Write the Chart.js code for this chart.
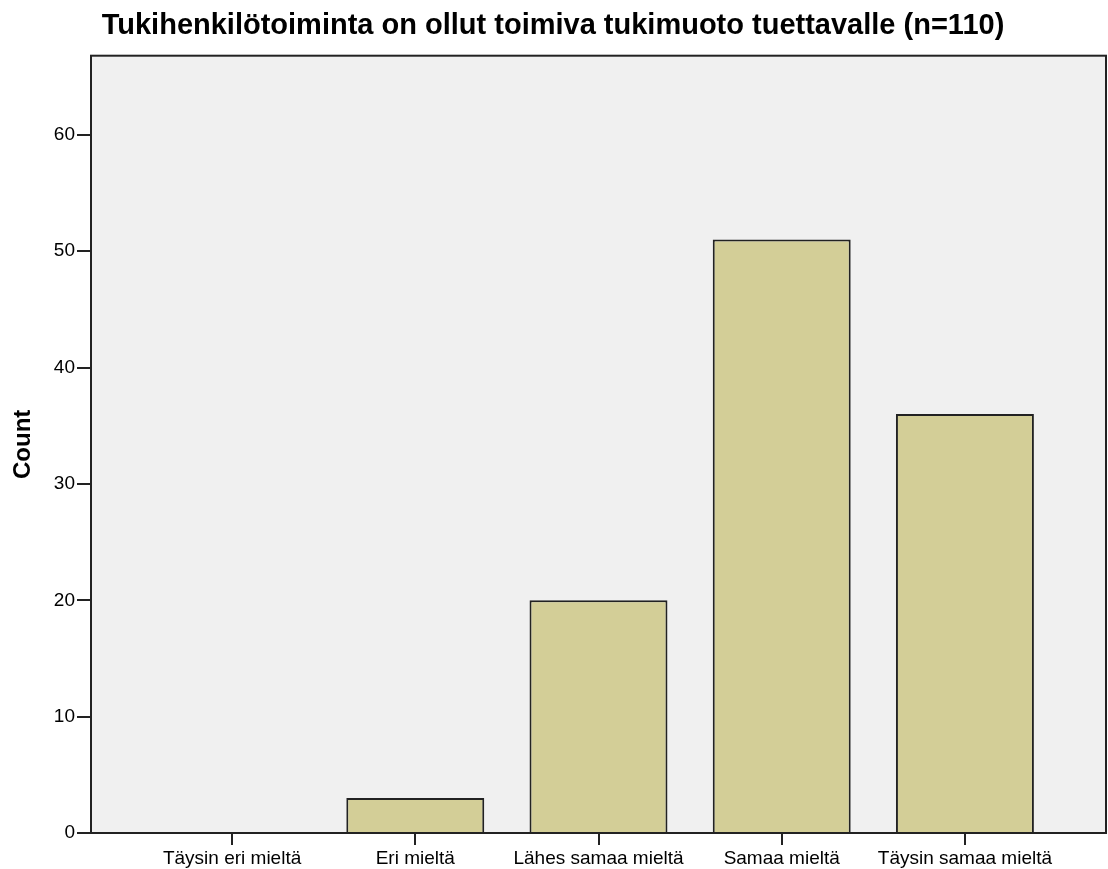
<!DOCTYPE html>
<html>
<head>
<meta charset="utf-8">
<script src="https://cdn.jsdelivr.net/npm/chart.js@4/dist/chart.umd.min.js"></script>
<style>
  body { margin: 0; background: #fff; }
  #wrap { width: 1108px; height: 869px; }
</style>
</head>
<body>
<div id="wrap"><canvas id="chart" width="1108" height="869"></canvas></div>
<script>
const categories = ['Täysin eri mieltä', 'Eri mieltä', 'Lähes samaa mieltä', 'Samaa mieltä', 'Täysin samaa mieltä'];
const counts = [0, 3, 20, 51, 36];
const yTicks = [0, 10, 20, 30, 40, 50, 60];
const yMax = 66.8;

// grey plot background and frame like SPSS
const frame = {
  id: 'frame',
  beforeDatasetsDraw(chart) {
    const { ctx, chartArea: a } = chart;
    ctx.save();
    ctx.fillStyle = '#f0f0f0';
    ctx.fillRect(a.left, a.top, a.right - a.left, a.bottom - a.top);
    ctx.restore();
  },
  afterDraw(chart) {
    const { ctx, chartArea: a } = chart;
    ctx.save();
    ctx.strokeStyle = '#222';
    ctx.lineWidth = 2;
    ctx.strokeRect(a.left, a.top, a.right - a.left, a.bottom - a.top);
    ctx.restore();
  }
};

new Chart(document.getElementById('chart'), {
  type: 'bar',
  data: {
    datasets: [{
      label: 'Count',
      data: counts.map((c, i) => ({ x: i, y: c })),
      backgroundColor: '#d3ce97',
      borderColor: '#222',
      borderWidth: 2,
      categoryPercentage: 1,
      barPercentage: 0.753
    }]
  },
  options: {
    responsive: false,
    animation: false,
    devicePixelRatio: 1,
    layout: { padding: { left: 0, right: 2, top: 0, bottom: 0 } },
    plugins: {
      legend: { display: false },
      tooltip: { enabled: false },
      title: {
        display: true,
        text: 'Tukihenkilötoiminta on ollut toimiva tukimuoto tuettavalle (n=110)',
        color: '#000',
        font: { family: 'Liberation Sans', size: 29, weight: 'bold' },
        padding: { top: 8.5, bottom: 12.4 }
      }
    },
    scales: {
      x: {
        type: 'linear',
        offset: false,
        min: -0.77,
        max: 4.77,
        afterBuildTicks: s => { s.ticks = categories.map((_, i) => ({ value: i })); },
        afterFit: s => { s.height = 36; },
        grid: { offset: false, drawOnChartArea: false, drawTicks: true, tickLength: 12, color: '#222', lineWidth: 2 },
        border: { display: true, color: '#222', width: 2 },
        ticks: {
          autoSkip: false,
          maxRotation: 0,
          padding: 2,
          color: '#000',
          font: { family: 'Liberation Sans', size: 19 },
          callback: v => categories[v]
        }
      },
      y: {
        min: 0,
        max: yMax,
        afterBuildTicks: s => { s.ticks = yTicks.map(v => ({ value: v })); },
        afterFit: s => { s.width = 91; },
        grid: { drawOnChartArea: false, drawTicks: true, tickLength: 14, color: '#222', lineWidth: 2 },
        border: { display: true, color: '#222', width: 2 },
        ticks: {
          padding: 2,
          color: '#000',
          font: { family: 'Liberation Sans', size: 19 }
        },
        title: {
          display: true,
          text: 'Count',
          color: '#000',
          font: { family: 'Liberation Sans', size: 24, weight: 'bold' },
          padding: { top: 9, bottom: 0 }
        }
      }
    }
  },
  plugins: [frame]
});
</script>
</body>
</html>
